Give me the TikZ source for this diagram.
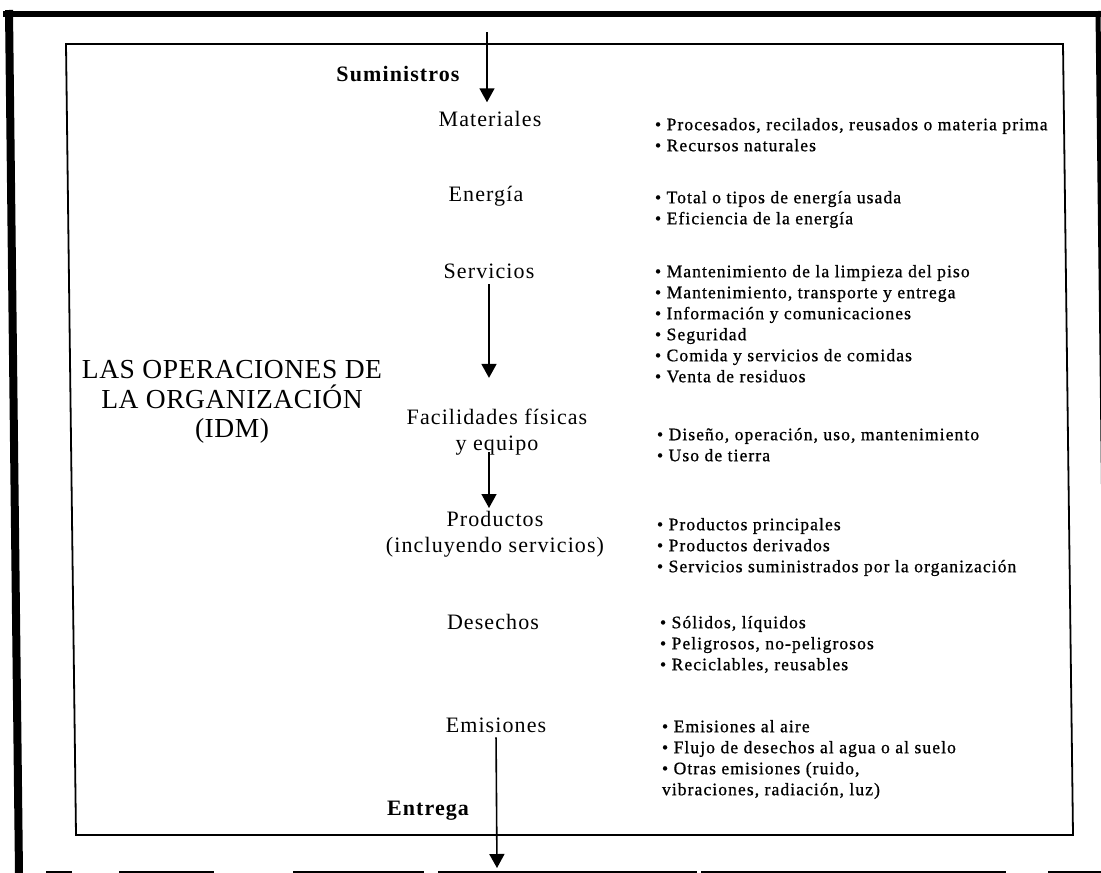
\documentclass[tikz,border=0pt]{standalone}
\usepackage{fontspec}
\setmainfont{Liberation Serif}
\newfontfamily\lblfont{Liberation Serif}[LetterSpace=5]
\newfontfamily\itmfont{Liberation Serif}[LetterSpace=6,FakeBold=0.8]
\newfontfamily\ttlfont{Liberation Serif}[LetterSpace=2]
\usetikzlibrary{arrows.meta}

\begin{document}
\begin{tikzpicture}[x=1pt, y=-1pt, inner sep=0pt, outer sep=0pt,
  lbl/.style={font=\lblfont\fontsize{22}{26}\selectfont, align=center},
  hdr/.style={font=\lblfont\bfseries\fontsize{22}{26}\selectfont},
  ttl/.style={font=\ttlfont\fontsize{27.5}{29.5}\selectfont, align=center},
  itm/.style={font=\itmfont\fontsize{17.6}{21}\selectfont, align=left, anchor=north west},
  flow/.style={-{Triangle[width=15pt,length=14pt]}, line width=1.6pt}]
\useasboundingbox (0,0) rectangle (1101,873);

\draw[line width=6pt] (3,13.5) -- (1101,13.5);
\draw[line width=8pt] (9,10) -- (19,873);
\draw[line width=5pt] (1098,11) -- (1108,873);
\draw[line width=2pt] (46,872) -- (72,872) (119,872) -- (214,872) (293,872) -- (424,872)
  (438,872) -- (697,872) (701,872) -- (1006,872) (1048,872) -- (1101,872);
\draw[line width=1.8pt] (66,44) -- (1063,44) -- (1073,835) -- (76,835) -- cycle;

\node[hdr] (sum) at (398,74) {Suministros};
\coordinate (src) at (487,32);
\node[lbl] (mat) at (490,119) {Materiales};
\node[lbl] (ene) at (486,196) {Energía};
\node[lbl] (ser) at (489,271) {Servicios};
\node[lbl] (fac) at (497,432) {Facilidades físicas\\y equipo};
\node[lbl] (pro) at (495,534) {Productos\\(incluyendo servicios)};
\node[lbl] (des) at (493,622) {Desechos};
\node[lbl] (emi) at (496,725) {Emisiones};
\node[hdr] (ent) at (428,811) {Entrega};
\coordinate (snk) at (497,868);
\node[ttl] (org) at (232,402) {LAS OPERACIONES DE\\LA ORGANIZACIÓN\\(IDM)};

\node[itm] (i1) at (655,118) {• Procesados, recilados, reusados o materia prima\\• Recursos naturales};
\node[itm] (i2) at (655,191) {• Total o tipos de energía usada\\• Eficiencia de la energía};
\node[itm] (i3) at (655,265) {• Mantenimiento de la limpieza del piso\\• Mantenimiento, transporte y entrega\\• Información y comunicaciones\\• Seguridad\\• Comida y servicios de comidas\\• Venta de residuos};
\node[itm] (i4) at (657,428) {• Diseño, operación, uso, mantenimiento\\• Uso de tierra};
\node[itm] (i5) at (657,518) {• Productos principales\\• Productos derivados\\• Servicios suministrados por la organización};
\node[itm] (i6) at (660,616) {• Sólidos, líquidos\\• Peligrosos, no-peligrosos\\• Reciclables, reusables};
\node[itm] (i7) at (662,720) {• Emisiones al aire\\• Flujo de desechos al agua o al suelo\\• Otras emisiones (ruido,\\vibraciones, radiación, luz)};

\draw[flow, shorten >=9pt] (src) -- (src |- mat.north);
\draw[flow, shorten <=6pt, shorten >=31pt] (ser.south) -- (ser.south |- fac.north);
\draw[flow, shorten <=-3pt, shorten >=3pt] (fac.south -| ser.south) -- (pro.north -| ser.south);
\draw[flow, shorten <=5pt] (emi.south) -- (snk);
\end{tikzpicture}
\end{document}
